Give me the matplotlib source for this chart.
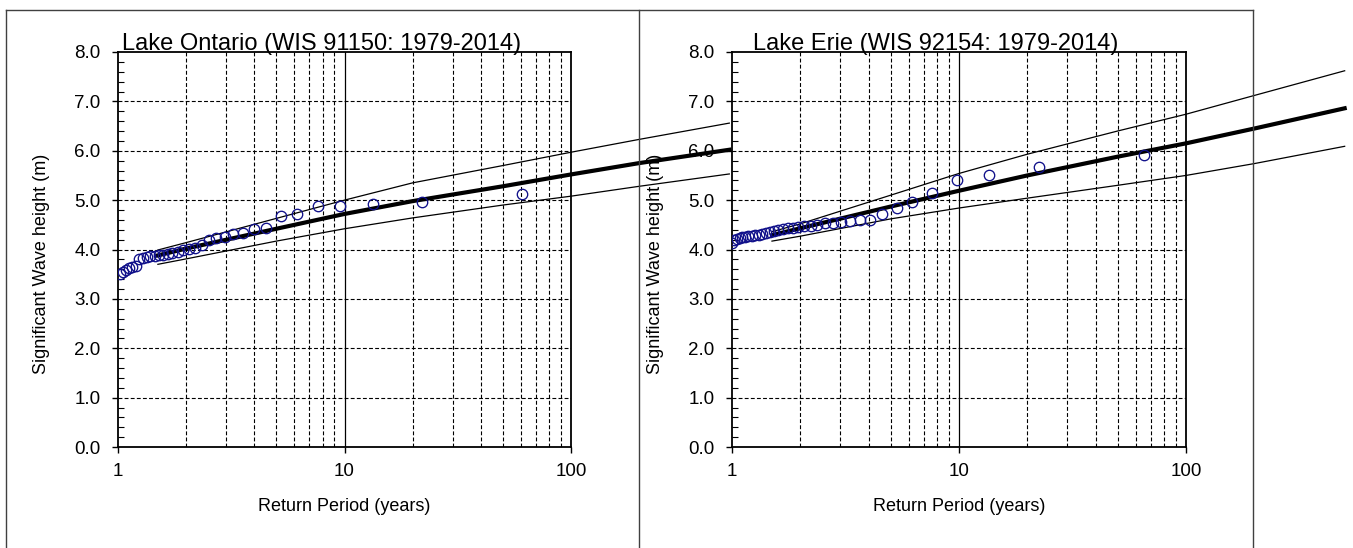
import numpy as np
import matplotlib
matplotlib.use('Agg')
import matplotlib.pyplot as plt
from matplotlib.lines import Line2D
from matplotlib.ticker import FixedLocator, FixedFormatter, MultipleLocator, NullFormatter

plt.rcParams['font.family'] = ['Liberation Sans', 'DejaVu Sans']

# annual maxima, plotted at their return periods (years) -> Hs (m)
ont_T = [1.02, 1.05, 1.08, 1.12, 1.15, 1.20, 1.24, 1.29, 1.34, 1.39, 1.45, 1.51,
         1.58, 1.66, 1.74, 1.84, 1.94, 2.06, 2.19, 2.34, 2.52, 2.72, 2.96, 3.23,
         3.57, 3.97, 4.52, 5.24, 6.14, 7.60, 9.59, 13.3, 21.9, 60.9]
ont_hs = [3.51, 3.55, 3.58, 3.62, 3.65, 3.66, 3.80, 3.82, 3.84, 3.86, 3.87, 3.88,
          3.89, 3.90, 3.92, 3.95, 3.98, 4.01, 4.03, 4.10, 4.19, 4.24, 4.26, 4.32,
          4.33, 4.42, 4.44, 4.67, 4.72, 4.88, 4.89, 4.93, 4.97, 5.12]

erie_T = [1.00, 1.02, 1.05, 1.08, 1.11, 1.14, 1.18, 1.22, 1.26, 1.31, 1.36, 1.41,
          1.47, 1.53, 1.60, 1.68, 1.76, 1.86, 1.96, 2.08, 2.22, 2.38, 2.57, 2.79,
          3.03, 3.32, 3.65, 4.06, 4.58, 5.31, 6.22, 7.62, 9.77, 13.6, 22.5, 65.0]
erie_hs = [4.14, 4.20, 4.22, 4.24, 4.25, 4.26, 4.27, 4.28, 4.29, 4.30, 4.32, 4.34,
           4.36, 4.37, 4.39, 4.41, 4.43, 4.44, 4.45, 4.47, 4.48, 4.50, 4.53, 4.54,
           4.55, 4.57, 4.59, 4.60, 4.72, 4.85, 4.96, 5.15, 5.40, 5.51, 5.68, 5.92]

# fitted distribution and confidence band
fit_T = [1.5, 2, 5, 10, 20, 50, 100, 200, 500]
ont_fit = [3.88, 4.02, 4.42, 4.72, 4.98, 5.28, 5.52, 5.75, 6.02]
ont_hi = [3.99, 4.14, 4.63, 5.00, 5.35, 5.70, 5.97, 6.23, 6.56]
ont_lo = [3.70, 3.81, 4.17, 4.42, 4.64, 4.90, 5.08, 5.28, 5.53]
erie_fit = [4.29, 4.43, 4.87, 5.19, 5.50, 5.88, 6.15, 6.45, 6.86]
erie_hi = [4.36, 4.52, 5.10, 5.54, 5.93, 6.40, 6.74, 7.12, 7.62]
erie_lo = [4.17, 4.27, 4.62, 4.84, 5.04, 5.30, 5.50, 5.74, 6.09]

W, H = 1353, 548
fig = plt.figure(figsize=(W / 100, H / 100), dpi=100)


def box(x0, x1, y0, y1):
    return [x0 / W, 1 - y1 / H, (x1 - x0) / W, (y1 - y0) / H]


def hline(x0, x1, y):
    fig.add_artist(Line2D([x0 / W, x1 / W], [1 - y / H] * 2, transform=fig.transFigure,
                          color='#404040', lw=1.0))


def vline(x, y0, y1):
    fig.add_artist(Line2D([x / W] * 2, [1 - y0 / H, 1 - y1 / H], transform=fig.transFigure,
                          color='#404040', lw=1.0))


def panel(ax, title, T, hs, fit, hi, lo):
    ax.set_xscale('log')
    ax.set_xlim(1, 100)
    ax.set_ylim(0, 8)

    ax.xaxis.set_major_locator(FixedLocator([1, 10, 100]))
    ax.xaxis.set_major_formatter(FixedFormatter(['1', '10', '100']))
    minors = [m * d for d in (1, 10) for m in range(2, 10)]
    ax.xaxis.set_minor_locator(FixedLocator(minors))
    ax.xaxis.set_minor_formatter(NullFormatter())
    ax.yaxis.set_major_locator(MultipleLocator(1.0))
    ax.yaxis.set_minor_locator(MultipleLocator(0.2))
    ax.yaxis.set_major_formatter(plt.FormatStrFormatter('%.1f'))

    ax.tick_params(axis='both', which='major', direction='out', length=4.5, width=1.0,
                   labelsize=13.5, color='k')
    ax.tick_params(axis='x', which='major', pad=7)
    ax.tick_params(axis='y', which='major', pad=8)
    ax.tick_params(axis='x', which='minor', length=0)
    ax.tick_params(axis='y', which='minor', direction='in', length=4.5, width=0.8)

    dash = (0, (3.5, 2))
    for yv in range(1, 8):
        ax.axhline(yv, color='k', lw=0.8, ls=dash, zorder=1)
    for xv in minors:
        ax.axvline(xv, color='k', lw=0.8, ls=dash, zorder=1)
    ax.axvline(10, color='k', lw=0.9, zorder=1)

    for s in ax.spines.values():
        s.set_linewidth(1.3)
        s.set_color('k')

    ax.plot(fit_T, hi, color='k', lw=0.9, clip_on=False, zorder=3)
    ax.plot(fit_T, lo, color='k', lw=0.9, clip_on=False, zorder=3)
    ax.plot(fit_T, fit, color='k', lw=3.0, clip_on=False, zorder=3)
    ax.plot(T, hs, ls='none', marker='o', ms=7.5, mfc='none', mec='#10108a', mew=0.95,
            zorder=4)

    ax.text(0.449, 1.004, title, transform=ax.transAxes, ha='center', va='baseline',
            fontsize=17)
    ax.set_xlabel('Return Period (years)', fontsize=13)
    ax.xaxis.set_label_coords(0.5, -0.13)
    ax.set_ylabel('Significant Wave height (m)', fontsize=13)
    ax.yaxis.set_label_coords(-0.15, 0.463)


ax1 = fig.add_axes(box(118, 571, 52, 447))
ax2 = fig.add_axes(box(732, 1186, 52, 447))
panel(ax1, 'Lake Ontario (WIS 91150: 1979-2014)', ont_T, ont_hs, ont_fit, ont_hi, ont_lo)
panel(ax2, 'Lake Erie (WIS 92154: 1979-2014)', erie_T, erie_hs, erie_fit, erie_hi, erie_lo)

# chart area borders
hline(6, 1253, 10)
vline(6, 10, H)
vline(639, 10, H)
vline(1253, 10, H)

fig.savefig('out.png', dpi=100)
